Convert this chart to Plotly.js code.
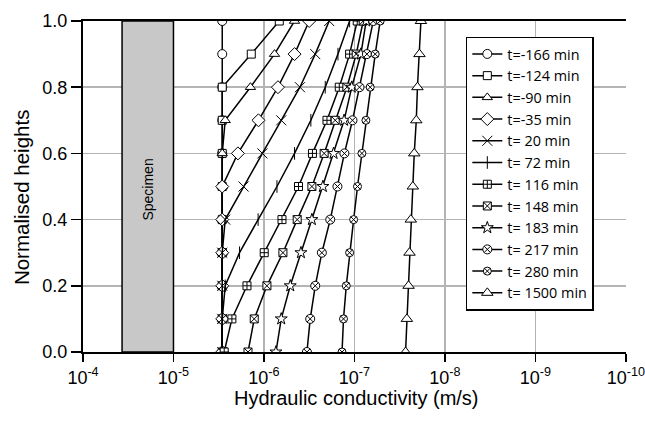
<!DOCTYPE html>
<html>
<head>
<meta charset="utf-8">
<script src="https://cdn.plot.ly/plotly-3.0.1.min.js"></script>
<style>html,body{margin:0;padding:0;background:#fff;}#chart{width:645px;height:423px;}</style>
</head>
<body>
<div id="chart"></div>
<script>
// Normalised heights (y) shared by all series
const heights = [0, 0.1, 0.2, 0.3, 0.4, 0.5, 0.6, 0.7, 0.8, 0.9, 1.0];

// Series names
const seriesNames = ["t=-166 min", "t=-124 min", "t=-90 min", "t=-35 min", "t= 20 min", "t= 72 min",
  "t= 116 min", "t= 148 min", "t= 183 min", "t= 217 min", "t= 280 min", "t= 1500 min"];

// Hydraulic conductivity (m/s), listed from height 0.0 to 1.0
const k_m166 = [2.89e-6, 2.89e-6, 2.89e-6, 2.89e-6, 2.89e-6, 2.89e-6, 2.89e-6, 2.89e-6, 2.89e-6, 2.89e-6, 2.89e-6];
const k_m124 = [2.89e-6, 2.89e-6, 2.89e-6, 2.89e-6, 2.89e-6, 2.89e-6, 2.89e-6, 2.89e-6, 2.89e-6, 1.38e-6, 6.77e-7];
const k_m90  = [2.89e-6, 2.89e-6, 2.89e-6, 2.89e-6, 2.89e-6, 2.89e-6, 2.89e-6, 2.68e-6, 1.41e-6, 7.64e-7, 4.59e-7];
const k_m35  = [2.89e-6, 2.89e-6, 2.89e-6, 2.89e-6, 2.89e-6, 2.89e-6, 1.94e-6, 1.15e-6, 7.00e-7, 4.59e-7, 3.16e-7];
const k_20   = [2.89e-6, 2.89e-6, 2.89e-6, 2.89e-6, 2.68e-6, 1.68e-6, 1.04e-6, 6.44e-7, 4.00e-7, 2.71e-7, 1.90e-7];
const k_72   = [2.89e-6, 2.89e-6, 2.68e-6, 1.86e-6, 1.16e-6, 7.18e-7, 4.59e-7, 3.03e-7, 2.10e-7, 1.52e-7, 1.13e-7];
const k_116  = [2.75e-6, 2.26e-6, 1.54e-6, 9.93e-7, 6.32e-7, 4.15e-7, 2.91e-7, 2.01e-7, 1.47e-7, 1.13e-7, 9.31e-8];
const k_148  = [1.50e-6, 1.28e-6, 9.27e-7, 6.17e-7, 4.29e-7, 2.95e-7, 2.16e-7, 1.63e-7, 1.21e-7, 9.55e-8, 7.99e-8];
const k_183  = [7.37e-7, 6.44e-7, 5.12e-7, 3.90e-7, 2.95e-7, 2.23e-7, 1.70e-7, 1.30e-7, 1.07e-7, 8.48e-8, 7.41e-8];
const k_217  = [3.35e-7, 3.08e-7, 2.71e-7, 2.29e-7, 1.85e-7, 1.54e-7, 1.29e-7, 1.05e-7, 8.79e-8, 7.28e-8, 6.19e-8];
const k_280  = [1.37e-7, 1.32e-7, 1.23e-7, 1.13e-7, 1.02e-7, 9.24e-8, 8.26e-8, 7.46e-8, 6.69e-8, 5.89e-8, 5.19e-8];
const k_1500 = [2.72e-8, 2.63e-8, 2.52e-8, 2.46e-8, 2.38e-8, 2.26e-8, 2.18e-8, 2.07e-8, 2.01e-8, 1.91e-8, 1.84e-8];

// Specimen band (m/s) and height
const specimenK = [3.7e-5, 1e-5];
const specimenH = [0, 1];
const specimenLabel = "Specimen";

// Tick labels and titles
const xTickVals = [1e-4, 1e-5, 1e-6, 1e-7, 1e-8, 1e-9, 1e-10];
const xTickText = ["10<sup>-4</sup>", "10<sup>-5</sup>", "10<sup>-6</sup>", "10<sup>-7</sup>",
  "10<sup>-8</sup>", "10<sup>-9</sup>", "10<sup>-10</sup>"];
const yTickVals = [0, 0.2, 0.4, 0.6, 0.8, 1.0];
const xTitle = "Hydraulic conductivity (m/s)";
const yTitle = "Normalised heights";

const seriesK = [k_m166, k_m124, k_m90, k_m35, k_20, k_72, k_116, k_148, k_183, k_217, k_280, k_1500];
const symbols = ["circle", "square", "triangle-up", "diamond", "x-thin-open", "line-ns-open",
  "square-cross", "square-x", "star", "circle-x", "circle-x", "triangle-up"];
const sizes = [9, 8, 9, 10, 10, 9, 8, 8, 9, 9, 8, 10];

const FONT = "Liberation Sans, Arial, sans-serif";
const LEGFONT = "Open Sans, Liberation Sans, sans-serif";

const traces = [];
// specimen rectangle as filled trace
traces.push({
  x: [specimenK[0], specimenK[1], specimenK[1], specimenK[0], specimenK[0]],
  y: [specimenH[0], specimenH[0], specimenH[1], specimenH[1], specimenH[0]],
  mode: "lines", fill: "toself", fillcolor: "#c8c8c8",
  line: {color: "#000", width: 1.5}, showlegend: false, hoverinfo: "skip"
});

seriesK.forEach((ks, i) => {
  const openSym = symbols[i].endsWith("-open");
  traces.push({
    x: ks, y: heights, name: seriesNames[i],
    mode: "lines+markers",
    line: {color: "#000", width: 1.5},
    marker: {
      symbol: symbols[i], size: sizes[i],
      color: openSym ? "#000" : "#fff",
      line: {color: "#000", width: 1}
    }
  });
});

const layout = {
  width: 645, height: 423,
  margin: {l: 83, r: 19, t: 21, b: 71},
  paper_bgcolor: "#fff", plot_bgcolor: "#fff",
  font: {family: FONT, color: "#000", size: 16},
  showlegend: true,
  legend: {
    x: 0.705, y: 0.953, xanchor: "left", yanchor: "top",
    bgcolor: "#fff", bordercolor: "#000", borderwidth: 1.5,
    font: {family: LEGFONT, size: 14.4, color: "#000"},
    tracegroupgap: 0
  },
  xaxis: {
    type: "log", range: [-4, -10.002], autorange: false,
    tickvals: xTickVals, ticktext: xTickText,
    ticks: "outside", ticklen: 8, tickwidth: 1.5, tickcolor: "#000",
    showline: true, linecolor: "#000", linewidth: 2, mirror: true,
    showgrid: true, gridcolor: "#b4b4b4", gridwidth: 1.5,
    zeroline: false,
    tickfont: {family: FONT, size: 18, color: "#000"}
  },
  yaxis: {
    range: [0, 1], autorange: false,
    tickvals: yTickVals, tickformat: ".1f",
    ticks: "outside", ticklen: 10, tickwidth: 1.5, tickcolor: "#000",
    showline: true, linecolor: "#000", linewidth: 2,
    showgrid: true, gridcolor: "#b4b4b4", gridwidth: 1.5,
    zeroline: false,
    tickfont: {family: FONT, size: 18, color: "#000"}
  },
  annotations: [
    {
      x: Math.log10(Math.sqrt(specimenK[0] * specimenK[1])), y: 0.49,
      xref: "x", yref: "y", text: specimenLabel, textangle: -90,
      showarrow: false, font: {family: FONT, size: 14, color: "#000"}
    },
    {
      x: 0.504, y: -0.14, xref: "paper", yref: "paper", xanchor: "center", yanchor: "middle",
      text: xTitle, showarrow: false, font: {family: FONT, size: 20, color: "#000"}
    },
    {
      x: 0, y: 0.465, xref: "paper", yref: "paper", xanchor: "center", yanchor: "middle",
      text: yTitle, textangle: -90, showarrow: false, font: {family: FONT, size: 20.5, color: "#000"}
    }
  ]
};
// y-title x position given in pixels -> paper fraction
layout.annotations[2].x = (21 - 83) / (645 - 83 - 19);

Plotly.newPlot("chart", traces, layout, {displayModeBar: false, staticPlot: true});
</script>
</body>
</html>
